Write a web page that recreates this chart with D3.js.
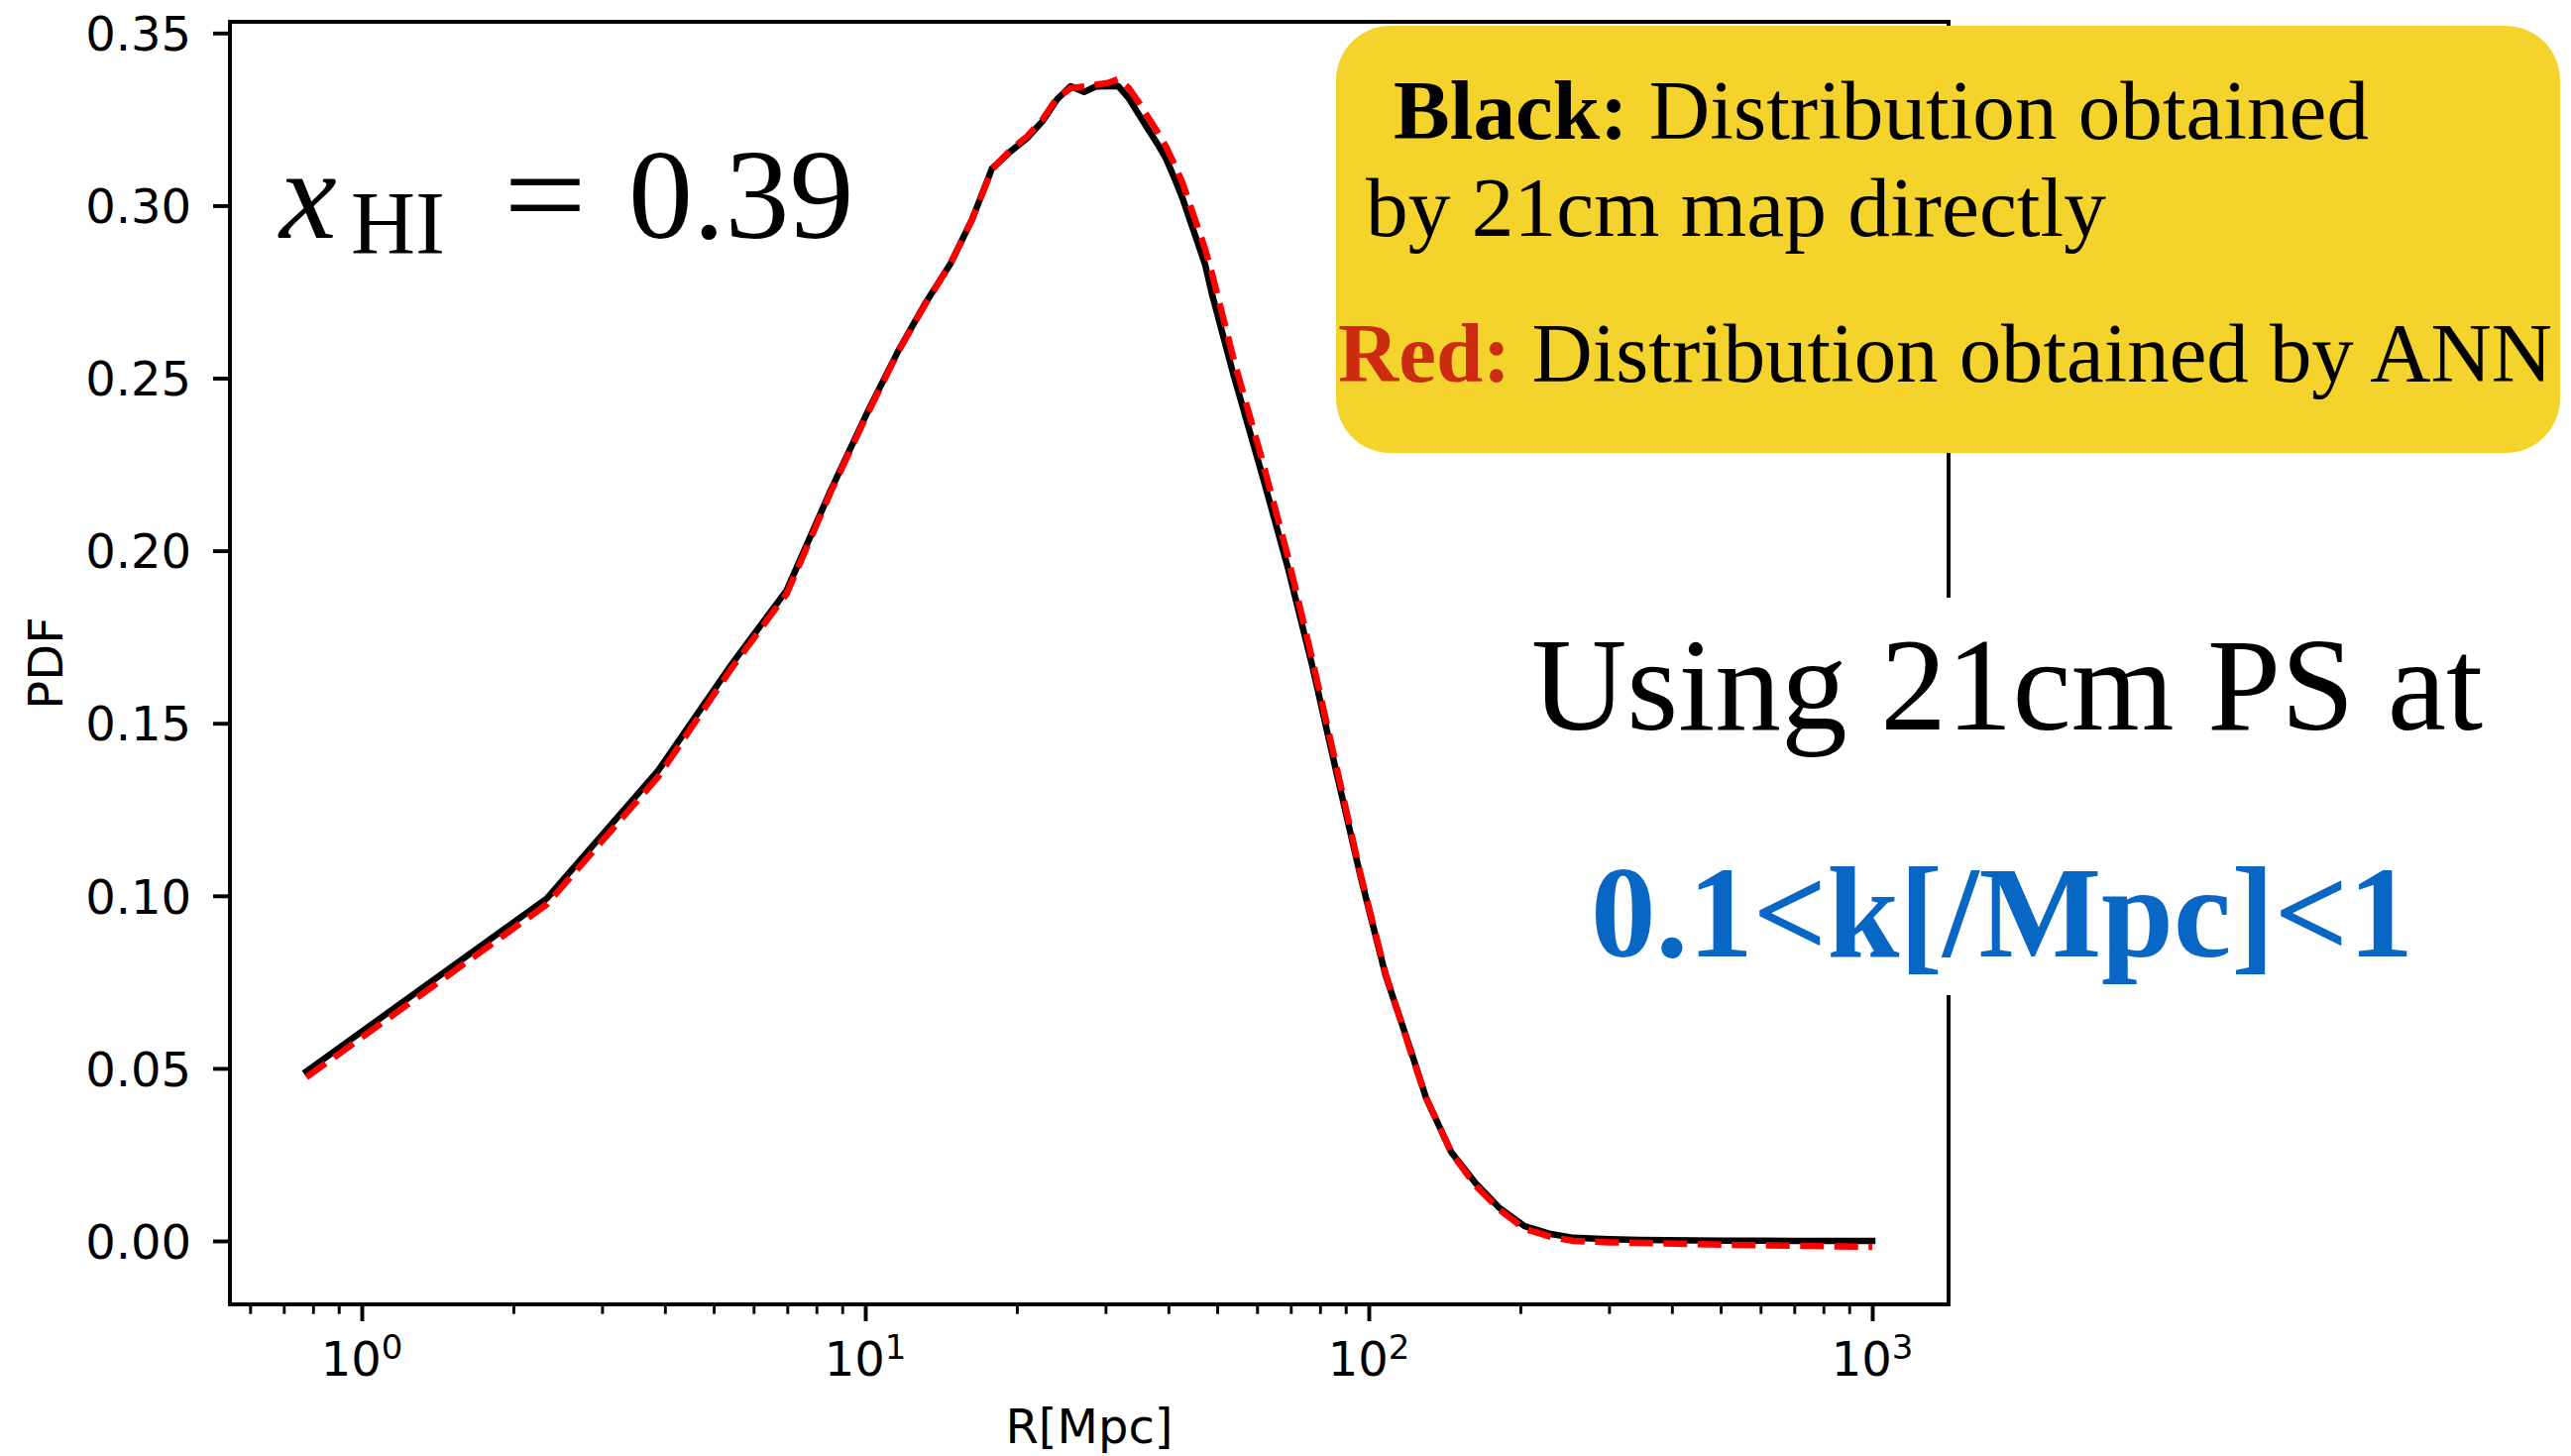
<!DOCTYPE html>
<html>
<head>
<meta charset="utf-8">
<script src="https://cdn.jsdelivr.net/npm/d3@7"></script>
<style>
  html, body { margin: 0; padding: 0; background: #ffffff; }
  svg { display: block; }
</style>
</head>
<body>
<svg id="chart" width="2594" height="1469"></svg>
<script>
// Bubble-size distribution R (Mpc) and its PDF, from the 21cm map and from the ANN
const radiusMpc = [0.776, 2.33, 3.88, 5.43, 6.98, 8.54, 10.09, 11.64, 13.2, 14.75, 16.3, 17.85,
  19.4, 20.95, 22.5, 24.05, 25.6, 27.2, 28.7, 30.3, 31.8, 33.4, 34.9, 36.5, 38.0, 39.6, 41.1,
  42.7, 44.2, 45.8, 47.3, 48.9, 53.8, 61.5, 68.9, 77.1, 86.1, 96.4, 108, 121, 130, 146, 163,
  182, 204, 230, 255, 300, 346, 500, 700, 1000];

const pdfMap = [0.0491, 0.0992, 0.1363, 0.1671, 0.1885, 0.2175, 0.2400, 0.2580, 0.2720, 0.2830,
  0.2960, 0.3107, 0.3156, 0.3195, 0.3245, 0.3308, 0.3346, 0.3329, 0.3345, 0.3346, 0.3346, 0.3310,
  0.3265, 0.3220, 0.3180, 0.3135, 0.3080, 0.3020, 0.2955, 0.2890, 0.2830, 0.2740, 0.2513, 0.2217,
  0.1957, 0.1671, 0.1363, 0.1054, 0.0770, 0.0555, 0.0414, 0.0256, 0.0167, 0.0095, 0.0043, 0.0020,
  0.0009, 0.0005, 0.0003, 0.0001, 0.0000, 0.0000];

const pdfANN = [0.0474, 0.0975, 0.1345, 0.1660, 0.1875, 0.2170, 0.2395, 0.2578, 0.2718, 0.2830,
  0.2960, 0.3105, 0.3160, 0.3200, 0.3250, 0.3312, 0.3340, 0.3345, 0.3350, 0.3355, 0.3366, 0.3340,
  0.3300, 0.3255, 0.3215, 0.3170, 0.3120, 0.3065, 0.3000, 0.2935, 0.2875, 0.2800, 0.2560, 0.2260,
  0.1990, 0.1690, 0.1380, 0.1060, 0.0775, 0.0550, 0.0415, 0.0255, 0.0160, 0.0090, 0.0035, 0.0012,
  0.0000, -0.0004, -0.0006, -0.0011, -0.0014, -0.0017];

const yTicks = [0.00, 0.05, 0.10, 0.15, 0.20, 0.25, 0.30, 0.35];
const xMajorTicks = [1, 10, 100, 1000];
const xMajorExponents = ["0", "1", "2", "3"];
const xLabel = "R[Mpc]";
const yLabel = "PDF";

const svg = d3.select("#chart");
svg.append("rect").attr("width", 2594).attr("height", 1469).attr("fill", "#ffffff");

const box = { left: 232, right: 1966, top: 22, bottom: 1316 };

const x = d3.scaleLog()
  .domain([Math.pow(10, -0.2618), Math.pow(10, 3.1516)])
  .range([box.left, box.right]);
const y = d3.scaleLinear()
  .domain([-0.01838, 0.35325])
  .range([box.bottom, box.top]);

const tickFont = "'DejaVu Sans', sans-serif";

// minor ticks of the log axis
const xMinorTicks = [];
for (let e = -1; e <= 3; e++) {
  for (let m = 2; m <= 9; m++) {
    const v = m * Math.pow(10, e);
    if (v >= x.domain()[0] && v <= x.domain()[1]) xMinorTicks.push(v);
  }
}

const gMinor = svg.append("g")
  .attr("transform", `translate(0,${box.bottom})`)
  .call(d3.axisBottom(x).tickValues(xMinorTicks).tickSize(9.7).tickFormat(() => ""));
gMinor.select(".domain").remove();
gMinor.selectAll(".tick line").attr("stroke", "#000").attr("stroke-width", 2.9);

const gMajor = svg.append("g")
  .attr("transform", `translate(0,${box.bottom})`)
  .call(d3.axisBottom(x).tickValues(xMajorTicks).tickSize(17).tickFormat(() => ""));
gMajor.select(".domain").remove();
gMajor.selectAll(".tick line").attr("stroke", "#000").attr("stroke-width", 3.9);

// 10^n labels
svg.append("g").selectAll("text")
  .data(xMajorTicks)
  .join("text")
  .attr("x", d => x(d))
  .attr("y", 1388)
  .attr("text-anchor", "middle")
  .attr("font-family", tickFont)
  .attr("font-size", 48)
  .attr("fill", "#000")
  .each(function (d, i) {
    const t = d3.select(this);
    t.append("tspan").text("10");
    t.append("tspan").attr("font-size", 34).attr("dy", -17).text(xMajorExponents[i]);
  });

const gy = svg.append("g")
  .attr("transform", `translate(${box.left},0)`)
  .call(d3.axisLeft(y).tickValues(yTicks).tickSize(17).tickPadding(22).tickFormat(d3.format(".2f")));
gy.select(".domain").remove();
gy.selectAll(".tick line").attr("stroke", "#000").attr("stroke-width", 3.9);
gy.selectAll(".tick text")
  .attr("font-family", tickFont)
  .attr("font-size", 48)
  .attr("fill", "#000")
  .attr("dy", "0.36em");

// axis labels
svg.append("text")
  .attr("x", (box.left + box.right) / 2)
  .attr("y", 1456)
  .attr("text-anchor", "middle")
  .attr("font-family", tickFont)
  .attr("font-size", 48)
  .text(xLabel);

svg.append("text")
  .attr("transform", `translate(63,${(box.top + box.bottom) / 2}) rotate(-90)`)
  .attr("text-anchor", "middle")
  .attr("font-family", tickFont)
  .attr("font-size", 48)
  .text(yLabel);

// curves
const line = d3.line()
  .x((d, i) => x(radiusMpc[i]))
  .y(d => y(d));

svg.append("path")
  .datum(pdfMap)
  .attr("d", line)
  .attr("fill", "none")
  .attr("stroke", "#000000")
  .attr("stroke-width", 6.5)
  .attr("stroke-linejoin", "round")
  .attr("stroke-linecap", "square");

svg.append("path")
  .datum(pdfANN)
  .attr("d", line)
  .attr("fill", "none")
  .attr("stroke", "#ff0000")
  .attr("stroke-width", 6.5)
  .attr("stroke-linejoin", "round")
  .attr("stroke-linecap", "butt")
  .attr("stroke-dasharray", "24,10.5");

// frame
svg.append("rect")
  .attr("x", box.left).attr("y", box.top)
  .attr("width", box.right - box.left).attr("height", box.bottom - box.top)
  .attr("fill", "none").attr("stroke", "#000").attr("stroke-width", 3.9);

// neutral fraction annotation
const serif = "'Liberation Serif', 'Times New Roman', serif";
const ann = svg.append("g").attr("font-family", serif).attr("fill", "#000");
ann.append("text").attr("x", 282).attr("y", 240).attr("font-size", 130)
  .attr("font-style", "italic").text("x");
ann.append("text").attr("x", 354).attr("y", 256).attr("font-size", 90).text("HI");
ann.append("text").attr("x", 508).attr("y", 240).attr("font-size", 130)
  .attr("textLength", 84).attr("lengthAdjust", "spacingAndGlyphs").text("=");
ann.append("text").attr("x", 634).attr("y", 240).attr("font-size", 130).text("0.39");

// legend box
svg.append("rect")
  .attr("x", 1348).attr("y", 26).attr("width", 1235).attr("height", 431)
  .attr("rx", 55).attr("ry", 55)
  .attr("fill", "#f4d32c");

const l1 = svg.append("text").attr("x", 1406).attr("y", 140)
  .attr("font-family", serif).attr("font-size", 84).attr("fill", "#000")
  .attr("textLength", 984).attr("lengthAdjust", "spacingAndGlyphs");
l1.append("tspan").attr("font-weight", "bold").text("Black:");
l1.append("tspan").text(" Distribution obtained");

svg.append("text").attr("x", 1378).attr("y", 238)
  .attr("font-family", serif).attr("font-size", 84).attr("fill", "#000")
  .attr("textLength", 747).attr("lengthAdjust", "spacingAndGlyphs")
  .text("by 21cm map directly");

const l3 = svg.append("text").attr("x", 1350).attr("y", 385)
  .attr("font-family", serif).attr("font-size", 84).attr("fill", "#000")
  .attr("textLength", 1225).attr("lengthAdjust", "spacingAndGlyphs");
l3.append("tspan").attr("font-weight", "bold").attr("fill", "#cc2b10").text("Red:");
l3.append("tspan").text(" Distribution obtained by ANN");

// k-range note
svg.append("rect")
  .attr("x", 1520).attr("y", 603).attr("width", 1020).attr("height", 401)
  .attr("fill", "#ffffff");

svg.append("text").attr("x", 1545).attr("y", 736)
  .attr("font-family", serif).attr("font-size", 134).attr("fill", "#000")
  .attr("textLength", 960).attr("lengthAdjust", "spacingAndGlyphs")
  .text("Using 21cm PS at");

svg.append("text").attr("x", 1605).attr("y", 965)
  .attr("font-family", serif).attr("font-size", 132).attr("font-weight", "bold")
  .attr("fill", "#0866c4")
  .attr("textLength", 830).attr("lengthAdjust", "spacingAndGlyphs")
  .text("0.1<k[/Mpc]<1");
</script>
</body>
</html>
